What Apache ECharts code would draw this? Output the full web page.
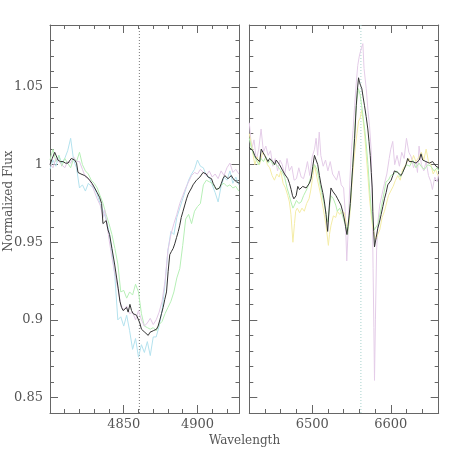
<!DOCTYPE html>
<html>
<head>
<meta charset="utf-8">
<script src="https://cdn.jsdelivr.net/npm/echarts@6/dist/echarts.min.js"></script>
<style>
  html, body { margin: 0; padding: 0; background: #fff; }
  #chart { width: 463px; height: 463px; }
</style>
</head>
<body>
<div id="chart"></div>
<script>
// H-beta panel (wavelength, normalized flux)
const hbMean = [[4800,1.000],[4801.5,1.004],[4803.2,1.008],[4805.4,1.003],[4807,1.002],[4808.8,1.002],[4810.5,1.001],[4812.2,1.001],[4814.4,1.004],[4816.7,1.003],[4818,1.001],[4819,0.995],[4821,0.994],[4823.5,0.993],[4825,0.992],[4826.9,0.990],[4828.5,0.988],[4830.3,0.985],[4832,0.982],[4833.6,0.979],[4835,0.975],[4835.9,0.962],[4837,0.961],[4838.1,0.964],[4839.3,0.958],[4840.4,0.955],[4842,0.946],[4843.8,0.936],[4845.2,0.927],[4846.3,0.920],[4847.4,0.912],[4848.5,0.908],[4849.6,0.906],[4850.8,0.907],[4851.9,0.908],[4853,0.905],[4854.2,0.910],[4855.3,0.906],[4856.4,0.904],[4857.5,0.905],[4858.7,0.903],[4859.8,0.902],[4860.9,0.898],[4862,0.894],[4863.2,0.893],[4864.3,0.892],[4865.5,0.891],[4866.6,0.890],[4867.8,0.892],[4868.9,0.893],[4870,0.893],[4871.1,0.894],[4872.2,0.894],[4873.3,0.896],[4874.5,0.900],[4875.6,0.904],[4876.7,0.908],[4877.8,0.913],[4879,0.918],[4880.1,0.931],[4881.2,0.942],[4882.3,0.944],[4883.5,0.946],[4884.6,0.949],[4885.8,0.953],[4887,0.957],[4888,0.961],[4889,0.966],[4890.2,0.970],[4891.4,0.974],[4892.6,0.978],[4893.7,0.981],[4894.8,0.983],[4896,0.985],[4897,0.987],[4898.2,0.988],[4899.3,0.990],[4900.5,0.990],[4901.6,0.992],[4902.7,0.993],[4903.8,0.995],[4904.9,0.996],[4906,0.994],[4907.2,0.992],[4908.3,0.991],[4909.5,0.991],[4910.6,0.988],[4911.7,0.986],[4912.8,0.984],[4913.9,0.983],[4915,0.985],[4916.2,0.988],[4917.3,0.991],[4918.5,0.993],[4919.6,0.992],[4920.7,0.991],[4921.8,0.992],[4923,0.993],[4924.1,0.991],[4925.3,0.990],[4926.4,0.989],[4927.5,0.990],[4928.5,0.988]];
const hbCyan = [[4800,0.997],[4802,1.003],[4804,0.999],[4806,1.006],[4808,1.001],[4810,1.004],[4812,1.009],[4814,1.017],[4816,1.003],[4818,0.998],[4820,0.985],[4822,0.987],[4824,0.983],[4826,0.988],[4828,0.986],[4830,0.985],[4832,0.981],[4834,0.975],[4836,0.970],[4838,0.965],[4840,0.957],[4842,0.944],[4844,0.928],[4846,0.900],[4848,0.902],[4850,0.896],[4852,0.903],[4854,0.893],[4856,0.881],[4858,0.888],[4860,0.876],[4862,0.884],[4864,0.879],[4866,0.886],[4868,0.877],[4870,0.889],[4872,0.889],[4874,0.896],[4876,0.906],[4878,0.923],[4880,0.945],[4882,0.957],[4884,0.955],[4886,0.966],[4888,0.972],[4890,0.978],[4892,0.984],[4894,0.990],[4896,0.994],[4898,0.997],[4900,1.003],[4902,0.999],[4904,0.998],[4906,0.993],[4908,0.992],[4910,0.987],[4912,0.982],[4914,0.976],[4916,0.986],[4918,0.992],[4920,0.990],[4922,0.996],[4924,0.988],[4926,0.992],[4928,0.987]];
const hbGreen = [[4800,1.003],[4802,1.010],[4804,1.002],[4806,1.006],[4808,0.999],[4810,1.004],[4812,1.001],[4814,0.998],[4816,1.004],[4818,1.002],[4820,1.008],[4822,1.000],[4824,0.996],[4826,0.994],[4828,0.990],[4830,0.988],[4832,0.985],[4834,0.980],[4836,0.975],[4838,0.968],[4840,0.962],[4842,0.955],[4844,0.946],[4846,0.936],[4848,0.918],[4850,0.919],[4852,0.914],[4854,0.918],[4856,0.916],[4858,0.923],[4860,0.918],[4862,0.904],[4864,0.896],[4866,0.895],[4868,0.894],[4870,0.895],[4872,0.893],[4874,0.897],[4876,0.899],[4878,0.904],[4880,0.908],[4882,0.912],[4884,0.918],[4886,0.927],[4888,0.933],[4890,0.948],[4892,0.965],[4894,0.968],[4896,0.962],[4898,0.970],[4900,0.973],[4902,0.975],[4904,0.987],[4906,0.990],[4908,0.989],[4910,0.988],[4912,0.985],[4914,0.984],[4916,0.987],[4918,0.988],[4920,0.986],[4922,0.987],[4924,0.985],[4926,0.986],[4928,0.983]];
const hbPink = [[4800,1.001],[4802,0.998],[4804,1.004],[4806,1.002],[4808,1.000],[4810,0.998],[4812,1.002],[4814,1.001],[4816,1.005],[4818,1.002],[4820,1.002],[4822,0.997],[4824,0.992],[4826,0.991],[4828,0.988],[4830,0.983],[4832,0.978],[4834,0.974],[4836,0.966],[4837,0.971],[4838,0.966],[4840,0.952],[4842,0.940],[4844,0.930],[4846,0.920],[4848,0.910],[4850,0.906],[4852,0.909],[4854,0.904],[4856,0.905],[4858,0.900],[4860,0.906],[4862,0.900],[4864,0.896],[4866,0.898],[4868,0.901],[4870,0.897],[4872,0.900],[4874,0.905],[4876,0.912],[4878,0.925],[4880,0.945],[4882,0.955],[4884,0.962],[4886,0.968],[4888,0.975],[4890,0.980],[4892,0.985],[4894,0.989],[4896,0.993],[4898,0.995],[4900,0.994],[4902,0.997],[4904,0.995],[4906,0.993],[4908,0.996],[4910,0.992],[4912,0.994],[4914,0.991],[4916,0.996],[4918,0.993],[4920,0.998],[4922,1.001],[4924,0.995],[4926,0.997],[4928,0.994]];

// H-alpha panel
const haMean = [[6420,1.011],[6422.5,1.012],[6424.7,1.009],[6426.8,1.006],[6428.9,1.004],[6431,1.003],[6433.2,1.002],[6435.2,1.010],[6437.3,1.008],[6439.5,1.006],[6441.6,1.004],[6443.7,1.002],[6445.8,1.004],[6447.9,1.005],[6450,1.002],[6452.2,1.000],[6454.3,1.003],[6456.4,1.002],[6458.5,1.000],[6460.6,0.999],[6462.7,0.996],[6464.9,0.994],[6467,0.993],[6469,0.991],[6471.1,0.988],[6473.2,0.984],[6475,0.980],[6476.7,0.978],[6479.6,0.980],[6481.7,0.986],[6483.8,0.984],[6485.9,0.984],[6488,0.986],[6490.2,0.987],[6492.3,0.985],[6494.4,0.986],[6496.5,0.988],[6498.6,0.991],[6500.8,0.999],[6502.9,1.006],[6505,1.003],[6507.1,1.000],[6509.2,0.993],[6511.3,0.987],[6513.5,0.982],[6515.6,0.976],[6517.6,0.968],[6519.7,0.957],[6521.9,0.974],[6523.9,0.985],[6526,0.983],[6528.2,0.983],[6530.3,0.980],[6532.4,0.978],[6534.5,0.976],[6536.6,0.974],[6538.7,0.970],[6540.9,0.965],[6542.5,0.960],[6544.2,0.955],[6545.5,0.960],[6547,0.967],[6548.5,0.975],[6549.8,0.985],[6551.5,0.998],[6554,1.017],[6556.1,1.038],[6557.5,1.048],[6559,1.056],[6560.3,1.053],[6561.6,1.051],[6563.2,1.049],[6565,1.043],[6566.6,1.038],[6568.7,1.031],[6570.8,1.023],[6572.3,1.015],[6573.9,1.006],[6575.2,0.995],[6576.4,0.985],[6577.2,0.970],[6578.3,0.957],[6579.3,0.947],[6581.4,0.953],[6583.5,0.959],[6585.6,0.963],[6587.8,0.968],[6589.9,0.973],[6592,0.978],[6594.1,0.982],[6596.2,0.987],[6598.3,0.988],[6600.5,0.990],[6602.6,0.993],[6604.7,0.996],[6606.8,0.995],[6608.8,0.995],[6611,0.994],[6613.2,0.993],[6615.2,0.995],[6617.3,0.996],[6619.4,1.000],[6621.5,1.004],[6623.6,1.002],[6625.8,1.001],[6627.9,1.002],[6630,1.003],[6632.1,1.001],[6634.2,1.000],[6636.3,1.003],[6638.5,1.007],[6640.6,1.003],[6642.7,1.002],[6644.8,1.002],[6646.9,1.003],[6649,1.001],[6651.2,1.001],[6653.3,1.002],[6655.4,1.002],[6657.5,0.999],[6659.6,0.999],[6661,0.998]];
const haPink = [[6420,1.027],[6423,1.010],[6426,1.016],[6429,1.003],[6432,1.010],[6435,1.023],[6438,1.008],[6441,1.012],[6444,1.006],[6447,1.009],[6450,0.999],[6453,1.004],[6456,0.996],[6459,1.003],[6462,1.000],[6465,0.993],[6468,1.004],[6471,0.996],[6474,0.999],[6477,0.990],[6480,0.991],[6483,0.998],[6486,0.992],[6489,0.991],[6492,0.997],[6494,1.002],[6497,0.993],[6500,1.005],[6503,1.010],[6505,1.017],[6507,1.006],[6509,1.021],[6511,1.006],[6514,0.999],[6517,1.003],[6520,0.996],[6523,1.002],[6526,0.994],[6528,0.995],[6531,0.990],[6534,0.996],[6537,0.987],[6540,0.985],[6542,0.970],[6544,0.938],[6546,0.960],[6548,0.990],[6550,1.010],[6552,1.022],[6554,1.038],[6556,1.052],[6558,1.064],[6560,1.070],[6562,1.074],[6564.5,1.078],[6566,1.062],[6568.8,1.049],[6571,1.035],[6573,1.025],[6575,1.010],[6576.5,0.975],[6577.5,0.933],[6578.5,0.895],[6579.3,0.861],[6580.5,0.900],[6582,0.945],[6584,0.965],[6586,0.974],[6589,0.981],[6592,0.988],[6595,0.994],[6598,1.004],[6600,1.010],[6602.5,1.015],[6605,1.000],[6608,1.006],[6611,0.999],[6614,1.008],[6617,1.004],[6620,1.017],[6623,1.008],[6626,1.005],[6629,0.998],[6632,1.002],[6634,0.995],[6636,1.012],[6639,1.000],[6642,0.996],[6645,1.002],[6648,0.993],[6651,0.989],[6653,0.984],[6656,0.992],[6659,0.989],[6661,0.994]];
const haGreen = [[6420,1.017],[6423,1.010],[6426,1.006],[6429,1.003],[6432,1.000],[6435,1.004],[6438,1.002],[6441,1.005],[6444,1.001],[6447,1.003],[6450,1.000],[6453,1.001],[6456,0.999],[6459,0.997],[6462,0.995],[6465,0.992],[6468,0.985],[6471,0.980],[6473,0.976],[6475.5,0.972],[6477.5,0.974],[6480,0.977],[6483,0.975],[6486,0.976],[6489,0.980],[6492,0.983],[6494,0.985],[6497,0.990],[6500,0.995],[6503,1.000],[6506,0.997],[6509,0.990],[6512,0.982],[6515.6,0.974],[6518,0.968],[6520,0.963],[6522,0.972],[6524,0.980],[6527,0.978],[6530,0.974],[6532,0.970],[6535,0.972],[6538,0.968],[6541,0.963],[6543,0.961],[6545,0.955],[6547,0.965],[6549,0.978],[6551,0.995],[6553,1.012],[6555,1.030],[6557,1.042],[6559,1.049],[6561,1.045],[6563,1.038],[6565,1.030],[6567,1.022],[6569,1.012],[6571,1.000],[6573,0.985],[6575,0.972],[6577,0.963],[6579,0.958],[6581.5,0.957],[6584,0.962],[6587,0.970],[6590,0.978],[6594,0.989],[6597,0.990],[6600,0.993],[6604,0.994],[6608,0.996],[6612,0.992],[6616,0.996],[6620,1.000],[6624,0.999],[6628,1.003],[6632,0.998],[6636,1.001],[6640,0.998],[6643,0.997],[6647,1.000],[6651,0.999],[6655,0.996],[6659,0.998],[6661,0.996]];
const haYellow = [[6420,1.020],[6423,1.012],[6427,1.000],[6430,1.005],[6433,1.000],[6437,1.008],[6440,1.006],[6443,1.000],[6446,0.998],[6449,0.993],[6452,0.990],[6455,0.994],[6458,0.992],[6460,0.996],[6463,0.988],[6466,0.985],[6469,0.980],[6471,0.976],[6473,0.968],[6475.5,0.950],[6477.5,0.962],[6479,0.970],[6481,0.972],[6484,0.969],[6487,0.972],[6490,0.970],[6493,0.975],[6496,0.978],[6498,0.983],[6501,0.993],[6503,1.000],[6506,0.992],[6509,0.985],[6511,0.980],[6514,0.972],[6517.6,0.961],[6520.6,0.948],[6522,0.955],[6524,0.961],[6527,0.967],[6530,0.966],[6532,0.970],[6535,0.968],[6538,0.970],[6541,0.969],[6543,0.963],[6545,0.957],[6547,0.962],[6549,0.975],[6551,0.990],[6553,1.002],[6555,1.012],[6557,1.020],[6559,1.028],[6561,1.030],[6563,1.035],[6565,1.028],[6567,1.018],[6569,1.005],[6571,0.992],[6573,0.978],[6575,0.968],[6577,0.960],[6579,0.955],[6581,0.952],[6583.5,0.952],[6586,0.958],[6589,0.966],[6592,0.970],[6594,0.974],[6597,0.980],[6600,0.983],[6603,0.986],[6606,0.990],[6609,0.993],[6612,0.990],[6615,0.997],[6618,0.999],[6620,1.000],[6623,1.004],[6626,1.001],[6629,1.006],[6632,1.002],[6636,1.005],[6639,1.008],[6642,1.003],[6645,1.010],[6648,1.002],[6651,1.000],[6654,0.994],[6657,0.997],[6660,0.993]];

const hbTicks = [4850, 4900];
const haTicks = [6500, 6600];
const fluxTicks = [0.85, 0.9, 0.95, 1, 1.05];
const fluxRange = [0.84, 1.09];
const hbLine = 4860.6;   // H-beta rest wavelength marker
const haLine = 6562;     // H-alpha rest wavelength marker

const FONT = 'DejaVu Serif';
const AXIS = '#666';
const TEXT = '#555';

const chart = echarts.init(document.getElementById('chart'));

// each side gets a minor-tick axis and a major-tick axis
const xAxes = (grid, min, max, step, major, labels) => [
  {
    type: 'value', gridIndex: grid, position: 'bottom', min, max, interval: step,
    axisLine: { show: true, onZero: false, lineStyle: { color: AXIS, width: 1 } },
    axisTick: { show: true, inside: true, length: 4, lineStyle: { color: AXIS } },
    axisLabel: {
      show: labels, margin: 5, color: TEXT, fontFamily: FONT, fontSize: 13,
      formatter: v => major.includes(Math.round(v)) ? String(Math.round(v)) : ''
    },
    splitLine: { show: false }
  },
  {
    type: 'value', gridIndex: grid, position: 'bottom', min, max,
    axisLine: { show: false, onZero: false },
    axisTick: { show: true, inside: true, length: 8, customValues: major, lineStyle: { color: AXIS } },
    axisLabel: { show: false }, splitLine: { show: false }
  },
  {
    type: 'value', gridIndex: grid, position: 'top', min, max, interval: step,
    axisLine: { show: true, onZero: false, lineStyle: { color: AXIS, width: 1 } },
    axisTick: { show: true, inside: true, length: 4, lineStyle: { color: AXIS } },
    axisLabel: { show: false }, splitLine: { show: false }
  },
  {
    type: 'value', gridIndex: grid, position: 'top', min, max,
    axisLine: { show: false, onZero: false },
    axisTick: { show: true, inside: true, length: 8, customValues: major, lineStyle: { color: AXIS } },
    axisLabel: { show: false }, splitLine: { show: false }
  }
];

const yAxes = (grid, labels) => [
  {
    type: 'value', gridIndex: grid, position: 'left', min: fluxRange[0], max: fluxRange[1], interval: 0.01,
    axisLine: { show: true, onZero: false, lineStyle: { color: AXIS, width: 1 } },
    axisTick: { show: true, inside: true, length: 4, lineStyle: { color: AXIS } },
    axisLabel: {
      show: labels, margin: 7, color: TEXT, fontFamily: FONT, fontSize: 13,
      formatter: v => Math.abs(v * 20 - Math.round(v * 20)) < 1e-6 ? String(+v.toFixed(2)) : ''
    },
    splitLine: { show: false }
  },
  {
    type: 'value', gridIndex: grid, position: 'left', min: fluxRange[0], max: fluxRange[1],
    axisLine: { show: false, onZero: false },
    axisTick: { show: true, inside: true, length: 8, customValues: fluxTicks, lineStyle: { color: AXIS } },
    axisLabel: { show: false }, splitLine: { show: false }
  },
  {
    type: 'value', gridIndex: grid, position: 'right', min: fluxRange[0], max: fluxRange[1], interval: 0.01,
    axisLine: { show: true, onZero: false, lineStyle: { color: AXIS, width: 1 } },
    axisTick: { show: true, inside: true, length: 4, lineStyle: { color: AXIS } },
    axisLabel: { show: false }, splitLine: { show: false }
  },
  {
    type: 'value', gridIndex: grid, position: 'right', min: fluxRange[0], max: fluxRange[1],
    axisLine: { show: false, onZero: false },
    axisTick: { show: true, inside: true, length: 8, customValues: fluxTicks, lineStyle: { color: AXIS } },
    axisLabel: { show: false }, splitLine: { show: false }
  }
];

const spec = (data, color, xi, yi, dash) => ({
  type: 'line', data, xAxisIndex: xi, yAxisIndex: yi,
  showSymbol: false, symbol: 'none', silent: true,
  lineStyle: { color, width: 1, type: dash || 'solid' }
});

const option = {
  animation: false,
  grid: [
    { left: 50, top: 25, width: 189.5, height: 388 },
    { left: 249.3, top: 25, width: 189.4, height: 388 }
  ],
  xAxis: [
    ...xAxes(0, 4800, 4928.5, 10, hbTicks, true),
    ...xAxes(1, 6420, 6661, 20, haTicks, true)
  ],
  yAxis: [
    ...yAxes(0, true),
    ...yAxes(1, false)
  ],
  graphic: [
    {
      type: 'text', x: 244.5, y: 441, silent: true,
      style: { text: 'Wavelength', fill: TEXT, font: '12px "DejaVu Serif"', align: 'center', verticalAlign: 'middle' }
    },
    {
      type: 'text', x: 9, y: 201, rotation: Math.PI / 2, silent: true,
      style: { text: 'Normalized Flux', fill: TEXT, font: '12px "DejaVu Serif"', align: 'center', verticalAlign: 'middle' }
    }
  ],
  series: [
    spec([[hbLine, fluxRange[0]], [hbLine, fluxRange[1]]], '#777', 0, 0, [1, 2]),
    spec(hbCyan, '#b4e2ee', 0, 0),
    spec(hbGreen, '#b6efb6', 0, 0),
    spec(hbPink, '#e2c8e6', 0, 0),
    spec(hbMean, '#333', 0, 0),
    spec([[haLine, fluxRange[0]], [haLine, fluxRange[1]]], '#a6d2cc', 4, 4, [1, 2]),
    spec(haPink, '#e4cce8', 4, 4),
    spec(haYellow, '#f4eca6', 4, 4),
    spec(haGreen, '#b6efb0', 4, 4),
    spec(haMean, '#333', 4, 4)
  ]
};

chart.setOption(option);
</script>
</body>
</html>
